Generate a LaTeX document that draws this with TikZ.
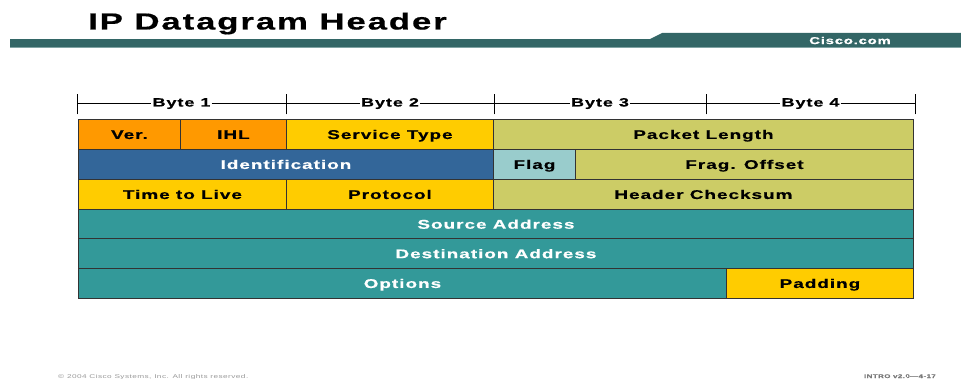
\documentclass[tikz,border=0pt]{standalone}
\usepackage{fontspec}
\usetikzlibrary{calc}
\newfontfamily\slidefont[FakeStretch=1.5, LetterSpace=8, BoldFeatures={FakeBold=0.6}]{Liberation Sans}
\definecolor{barteal}{HTML}{336666}
\definecolor{barlight}{HTML}{7FA3A3}
\definecolor{verorange}{HTML}{FF9900}
\definecolor{svcyellow}{HTML}{FFCC00}
\definecolor{lenolive}{HTML}{CCCC66}
\definecolor{idblue}{HTML}{336699}
\definecolor{flagcyan}{HTML}{99CCCC}
\definecolor{addrteal}{HTML}{339999}
\definecolor{cellline}{HTML}{333333}
\definecolor{footgray}{HTML}{999999}
\tikzset{
  cell/.style={draw=cellline, line width=0.9pt, anchor=north west, minimum height=30,
    inner sep=0pt, text height=9pt, text depth=0pt,
    font=\slidefont\bfseries\fontsize{12.6}{14}\selectfont},
  whitecell/.style={cell, text=white},
  bytelabel/.style={anchor=base, inner xsep=1pt, inner ysep=0pt, font=\slidefont\bfseries\fontsize{12}{14}\selectfont},
  ruler/.style={line width=0.7pt, black}
}
\begin{document}
\begin{tikzpicture}[x=1pt, y=-1pt]
  \useasboundingbox (0,0) rectangle (961,379);

  \node[anchor=base west, inner sep=0pt, font=\slidefont\bfseries\fontsize{23.2}{26}\selectfont] (title) at (88,29.5) {IP Datagram Header};
  \fill[barteal] (10,39) rectangle (961,47);
  \fill[barteal] (650,39) -- (662,33) -- (961,33) -- (961,47) -- (650,47) -- cycle;
  \draw[barlight, line width=0.8pt] (10,47.4) -- (961,47.4);
  \node[text=white, inner sep=0pt, font=\slidefont\bfseries\fontsize{9.9}{12}\selectfont] (cisco) at (850,40.5) {Cisco.com};

  \foreach \x [count=\i from 0] in {77,286,494,706,915}
    \coordinate (t\i) at (\x,103.5);
  \foreach \i in {0,...,4}
    \draw[ruler] ([yshift=-11pt]t\i) -- ([yshift=9pt]t\i);
  \foreach \i [evaluate=\i as \j using int(\i-1)] in {1,...,4} {
    \path (t\j) -- (t\i) coordinate[pos=0.5] (m\i);
    \node[bytelabel] (b\i) at ([yshift=-3pt]m\i) {Byte \i};
    \draw[ruler] (t\j) -- (t\j -| b\i.west) (t\i -| b\i.east) -- (t\i);
  }

  \node[cell, fill=verorange, minimum width=102] (ver) at (78,119) {Ver.};
  \node[cell, fill=verorange, minimum width=106] (ihl) at (180,119) {IHL};
  \node[cell, fill=svcyellow, minimum width=207] (svc) at (286,119) {Service Type};
  \node[cell, fill=lenolive, minimum width=420] (len) at (493,119) {Packet Length};

  \node[whitecell, fill=idblue, minimum width=415] (ident) at (78,149) {Identification};
  \node[cell, fill=flagcyan, minimum width=82] (flag) at (493,149) {Flag};
  \node[cell, fill=lenolive, minimum width=338] (frag) at (575,149) {Frag. Offset};

  \node[cell, fill=svcyellow, minimum width=208] (ttl) at (78,179) {Time to Live};
  \node[cell, fill=svcyellow, minimum width=207] (proto) at (286,179) {Protocol};
  \node[cell, fill=lenolive, minimum width=420] (chk) at (493,179) {Header Checksum};

  \node[whitecell, fill=addrteal, minimum width=835, minimum height=29.5] (src) at (78,209) {Source Address};
  \node[whitecell, fill=addrteal, minimum width=835, minimum height=29.5] (dst) at (78,238.5) {Destination Address};
  \node[whitecell, fill=addrteal, minimum width=648] (opt) at (78,268) {Options};
  \node[cell, fill=svcyellow, minimum width=187] (pad) at (726,268) {Padding};

  \node[anchor=base west, inner sep=0pt, text=footgray, font=\slidefont\fontsize{5.5}{6}\selectfont] (copy) at (58,378) {© 2004 Cisco Systems, Inc. All rights reserved.};
  \node[anchor=base east, inner sep=0pt, text=footgray!80!black, font=\slidefont\bfseries\fontsize{5.3}{6}\selectfont] (intro) at (936,378) {INTRO v2.0—4-17};
\end{tikzpicture}
\end{document}
